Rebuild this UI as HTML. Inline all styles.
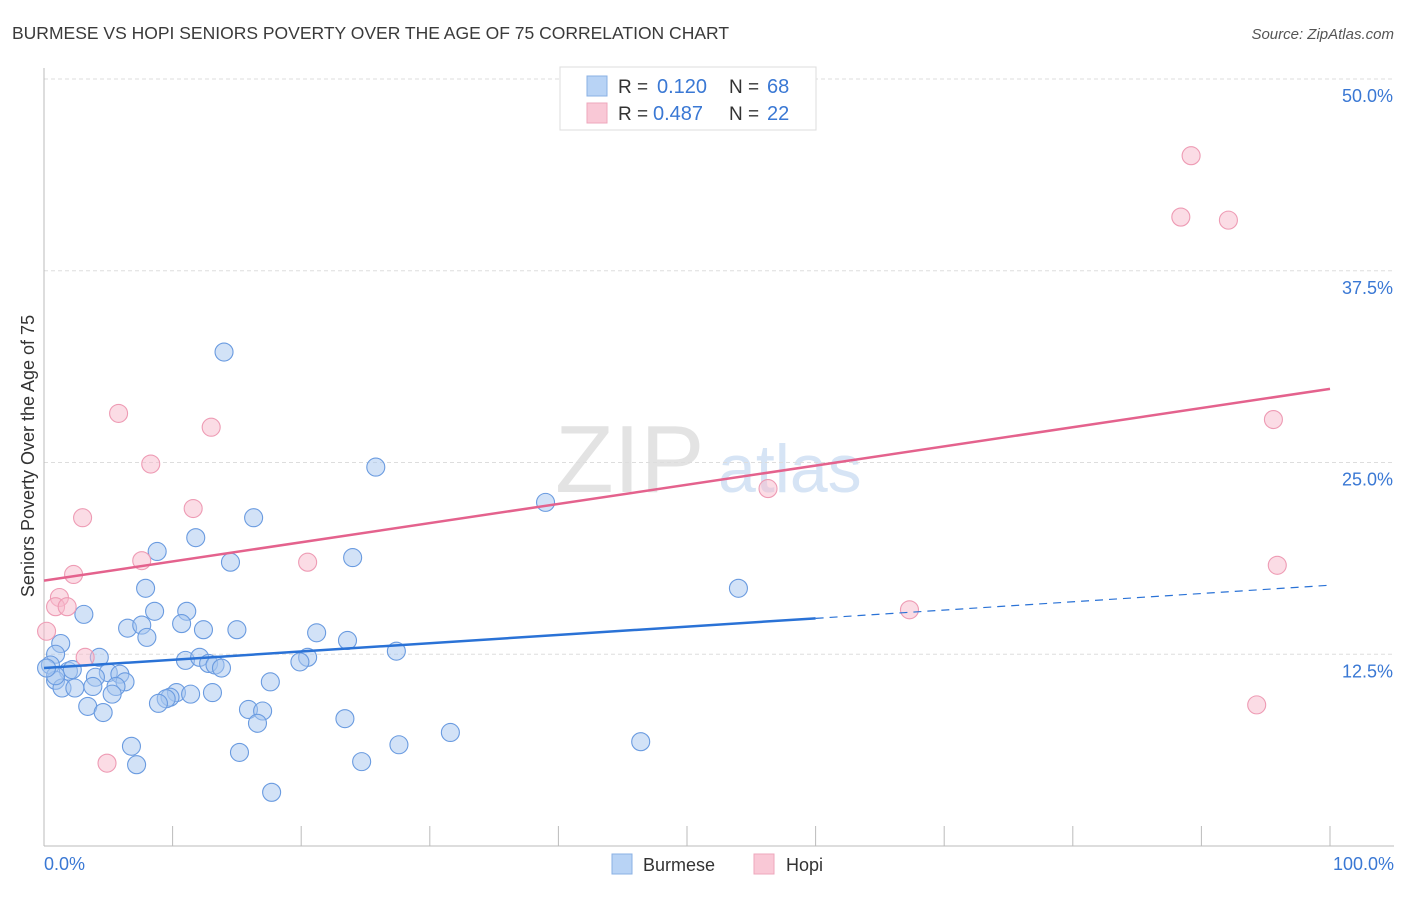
<!DOCTYPE html>
<html><head><meta charset="utf-8"><style>
body{margin:0;background:#fff;font-family:"Liberation Sans",sans-serif}
svg text{font-family:"Liberation Sans",sans-serif}
</style></head><body>
<svg id="c" width="1406" height="892">
<text x="12" y="39" font-size="17.5" fill="#3a3a3a">BURMESE VS HOPI SENIORS POVERTY OVER THE AGE OF 75 CORRELATION CHART</text>
<text x="1394" y="39" font-size="15" fill="#555" font-style="italic" text-anchor="end">Source: ZipAtlas.com</text>
<text x="555" y="492" font-size="96" fill="#e3e3e3" font-family="Liberation Serif">ZIP</text>
<text x="718" y="492" font-size="68" fill="#d6e4f5">atlas</text>
<g id="grid"></g><g id="pts"></g><g id="lines"></g>
<text transform="translate(34,456) rotate(-90)" font-size="18" fill="#333" text-anchor="middle">Seniors Poverty Over the Age of 75</text>
<text x="44" y="870" font-size="18" fill="#3a78d4">0.0%</text>
<text x="1394" y="870" font-size="18" fill="#3a78d4" text-anchor="end">100.0%</text>
<g>
<rect x="560" y="67" width="256" height="63" fill="#fff" stroke="#ddd"/>
<rect x="587" y="76" width="20" height="20" fill="#b8d3f5" stroke="#8ab0e4"/>
<rect x="587" y="103" width="20" height="20" fill="#f9c8d6" stroke="#eea7bc"/>
<text x="618" y="93" font-size="19" fill="#333">R =</text>
<text x="657" y="93" font-size="20" fill="#3a78d4">0.120</text>
<text x="729" y="93" font-size="19" fill="#333">N =</text>
<text x="767" y="93" font-size="20" fill="#3a78d4">68</text>
<text x="618" y="120" font-size="19" fill="#333">R =</text>
<text x="653" y="120" font-size="20" fill="#3a78d4">0.487</text>
<text x="729" y="120" font-size="19" fill="#333">N =</text>
<text x="767" y="120" font-size="20" fill="#3a78d4">22</text>
</g>
<g>
<rect x="612" y="854" width="20" height="20" fill="#b8d3f5" stroke="#8ab0e4"/>
<text x="643" y="871" font-size="18" fill="#333">Burmese</text>
<rect x="754" y="854" width="20" height="20" fill="#f9c8d6" stroke="#eea7bc"/>
<text x="786" y="871" font-size="18" fill="#333">Hopi</text>
</g>
</svg>
<script>
const yTicks=[12.5,25,37.5,50];
const yTickLabels=["12.5%","25.0%","37.5%","50.0%"];
const blueX=[14.0,25.8,39.0,16.3,11.8,8.8,24.0,14.5,7.9,54.0,3.1,8.6,11.1,10.7,6.5,7.6,8.0,12.4,15.0,21.2,23.6,1.3,0.9,27.4,4.3,20.5,19.9,11.0,12.1,12.8,13.3,13.8,0.5,1.9,2.2,5.0,5.9,4.0,6.3,17.6,0.9,1.4,2.4,3.8,5.6,5.3,10.3,9.8,9.5,11.4,13.1,8.9,3.4,4.6,15.9,17.0,23.4,16.6,31.6,46.4,6.8,27.6,15.2,7.2,24.7,17.7,0.9,0.2];
const blueY=[32.2,24.7,22.4,21.4,20.1,19.2,18.8,18.5,16.8,16.8,15.1,15.3,15.3,14.5,14.2,14.4,13.6,14.1,14.1,13.9,13.4,13.2,12.5,12.7,12.3,12.3,12.0,12.1,12.3,11.9,11.8,11.6,11.8,11.4,11.5,11.3,11.2,11.0,10.7,10.7,10.8,10.3,10.3,10.4,10.4,9.9,10.0,9.7,9.6,9.9,10.0,9.3,9.1,8.7,8.9,8.8,8.3,8.0,7.4,6.8,6.5,6.6,6.1,5.3,5.5,3.5,11.1,11.6];
const pinkX=[89.2,88.4,92.1,5.8,13.0,8.3,95.6,56.3,3.0,11.6,7.6,20.5,2.3,95.9,1.2,0.9,1.8,67.3,0.2,3.2,4.9,94.3];
const pinkY=[45.0,41.0,40.8,28.2,27.3,24.9,27.8,23.3,21.4,22.0,18.6,18.5,17.7,18.3,16.2,15.6,15.6,15.4,14.0,12.3,5.4,9.2];
const blueTrend=[11.6,17.0]; const blueSolidEnd=60;
const pinkTrend=[17.3,29.8];
const NS="http://www.w3.org/2000/svg";
const X=v=>44+v*12.86, Y=v=>846-v*15.34;
function mk(t,a,p){const e=document.createElementNS(NS,t);for(const k in a)e.setAttribute(k,a[k]);p.appendChild(e);return e;}
const g=document.getElementById('grid');
yTicks.forEach((t,i)=>{
 const l=mk('line',{x1:44,x2:1394,y1:Y(t),y2:Y(t),stroke:'#ddd','stroke-dasharray':'4,3'},g);
 
 
 const tx=mk('text',{x:1393,y:Y(t)+23,'font-size':18,fill:'#3a78d4','text-anchor':'end'},g);
 tx.textContent=yTickLabels[i];
 
 
});
const ax=mk('line',{x1:44,x2:1394,y1:846,y2:846,stroke:'#bbb'},g);


const ay=mk('line',{x1:44,x2:44,y1:68,y2:846,stroke:'#bbb'},g);


for(let i=0;i<=10;i++){const t=mk('line',{x1:X(i*10),x2:X(i*10),y1:826,y2:846,stroke:'#bbb'},g);
 
 }
const p=document.getElementById('pts');
blueX.forEach((v,i)=>{const c=mk('circle',{cx:X(v),cy:Y(blueY[i]),r:9,fill:'rgba(165,198,240,0.5)',stroke:'#6a9be0','stroke-width':1.1},p);
 
 });
pinkX.forEach((v,i)=>{const c=mk('circle',{cx:X(v),cy:Y(pinkY[i]),r:9,fill:'rgba(247,185,203,0.5)',stroke:'#ee9bb4','stroke-width':1.1},p);
 
 });
const L=document.getElementById('lines');
const bAt=x=>blueTrend[0]+(blueTrend[1]-blueTrend[0])*x/100;
const b1=mk('line',{x1:X(0),y1:Y(bAt(0)),x2:X(blueSolidEnd),y2:Y(bAt(blueSolidEnd)),stroke:'#2a72d6','stroke-width':2.5},L);


const b2=mk('line',{x1:X(blueSolidEnd),y1:Y(bAt(blueSolidEnd)),x2:X(100),y2:Y(bAt(100)),stroke:'#2a72d6','stroke-width':1.2,'stroke-dasharray':'8,6'},L);


const pl=mk('line',{x1:X(0),y1:Y(pinkTrend[0]),x2:X(100),y2:Y(pinkTrend[1]),stroke:'#e4628d','stroke-width':2.5},L);


</script>
</body></html>
